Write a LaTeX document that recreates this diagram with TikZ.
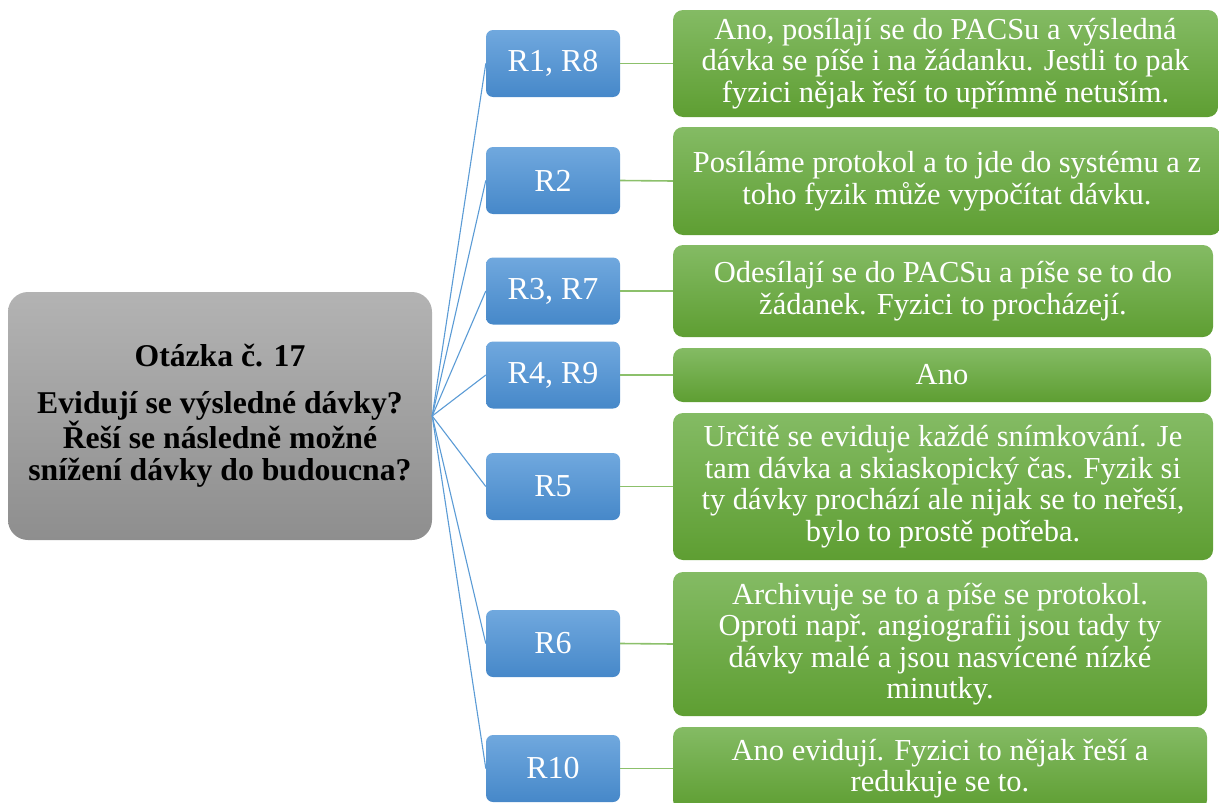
\documentclass[tikz,border=0pt]{standalone}
\usepackage{fontspec}
\setmainfont{Liberation Serif}
\usepackage{tikz}

\definecolor{sedaH}{HTML}{B3B3B3}
\definecolor{sedaD}{HTML}{8E8E8E}
\definecolor{modraH}{HTML}{70A8DE}
\definecolor{modraD}{HTML}{4688C9}
\definecolor{modraL}{HTML}{5B9BD5}
\definecolor{zelenaH}{HTML}{84BB64}
\definecolor{zelenaD}{HTML}{5E9E32}
\definecolor{zelenaL}{HTML}{8CC06B}

\begin{document}
\begin{tikzpicture}[
    x=1pt, y=-1pt,
    otazka/.style={
        rounded corners=20pt,
        minimum width=424pt,
        minimum height=248pt,
        inner sep=0pt,
        top color=sedaH, bottom color=sedaD,
        align=center,
        font=\fontsize{31.7}{32.5}\selectfont\bfseries
    },
    respondent/.style={
        rounded corners=7pt,
        minimum width=134pt,
        minimum height=67pt,
        inner sep=0pt,
        top color=modraH, bottom color=modraD,
        text=white,
        font=\fontsize{32}{34}\selectfont
    },
    odpoved/.style={
        rounded corners=10pt,
        inner sep=0pt,
        top color=zelenaH, bottom color=zelenaD,
        text=white,
        align=center,
        font=\fontsize{30.5}{31.5}\selectfont
    },
    vetev/.style={draw=modraL, line width=1.1pt},
    spoj/.style={draw=zelenaL, line width=1.6pt}
]
    \useasboundingbox (0,0) rectangle (1219,803);

    \node[otazka] (otazka) at (220,416)
        {Otázka č. 17\\[14pt]Evidují se výsledné dávky?\\Řeší se následně možné\\snížení dávky do budoucna?};

    \node[respondent] (r1) at (553,63.5) {R1, R8};
    \node[respondent] (r2) at (553,180.5) {R2};
    \node[respondent] (r3) at (553,291) {R3, R7};
    \node[respondent] (r4) at (553,375) {R4, R9};
    \node[respondent] (r5) at (553,486.5) {R5};
    \node[respondent] (r6) at (553,643.5) {R6};
    \node[respondent] (r10) at (553,768.5) {R10};

    \node[odpoved, minimum width=545pt, minimum height=107pt] (o1) at (945.5,63.5)
        {Ano, posílají se do PACSu a výsledná\\dávka se píše i na žádanku. Jestli to pak\\fyzici nějak řeší to upřímně netuším.};
    \node[odpoved, minimum width=548pt, minimum height=108pt] (o2) at (947,181)
        {Posíláme protokol a to jde do systému a z\\toho fyzik může vypočítat dávku.};
    \node[odpoved, minimum width=540pt, minimum height=92pt] (o3) at (943,291)
        {Odesílají se do PACSu a píše se to do\\žádanek. Fyzici to procházejí.};
    \node[odpoved, minimum width=538pt, minimum height=54pt] (o4) at (942,375)
        {Ano};
    \node[odpoved, minimum width=540pt, minimum height=147pt] (o5) at (943,486.5)
        {Určitě se eviduje každé snímkování. Je\\tam dávka a skiaskopický čas. Fyzik si\\ty dávky prochází ale nijak se to neřeší,\\bylo to prostě potřeba.};
    \node[odpoved, minimum width=534pt, minimum height=144pt] (o6) at (940,644)
        {Archivuje se to a píše se protokol.\\Oproti např. angiografii jsou tady ty\\dávky malé a jsou nasvícené nízké\\minutky.};
    \node[odpoved, minimum width=534pt, minimum height=83pt] (o7) at (940,768.5)
        {Ano evidují. Fyzici to nějak řeší a\\redukuje se to.};

    % vetve k respondentum
    \draw[vetev] (otazka.east) -- (r1.west);
    \draw[vetev] (otazka.east) -- (r2.west);
    \draw[vetev] (otazka.east) -- (r3.west);
    \draw[vetev] (otazka.east) -- (r4.west);
    \draw[vetev] (otazka.east) -- (r5.west);
    \draw[vetev] (otazka.east) -- (r6.west);
    \draw[vetev] (otazka.east) -- (r10.west);

    % spoje k odpovedim
    \draw[spoj] (r1.east) -- (o1.west);
    \draw[spoj] (r2.east) -- (o2.west);
    \draw[spoj] (r3.east) -- (o3.west);
    \draw[spoj] (r4.east) -- (o4.west);
    \draw[spoj] (r5.east) -- (o5.west);
    \draw[spoj] (r6.east) -- (o6.west);
    \draw[spoj] (r10.east) -- (o7.west);
\end{tikzpicture}
\end{document}
